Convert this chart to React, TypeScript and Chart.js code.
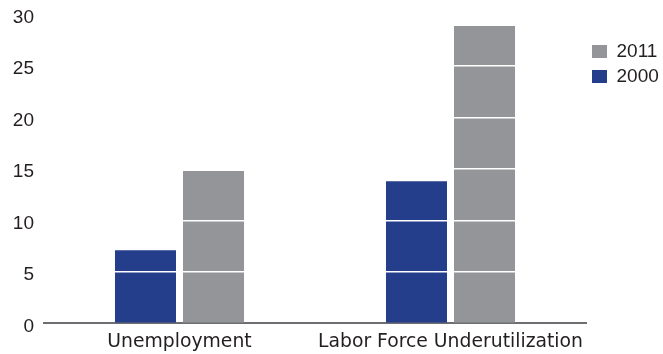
import React, { useEffect, useRef } from 'react';
import { Chart, registerables } from 'chart.js';

Chart.register(...registerables);

const categories = ['Unemployment', 'Labor Force Underutilization'];
const series2000 = [7.1, 13.8];
const series2011 = [14.8, 28.9];
const yTickStep = 5;
const yMin = 0;
const yMax = 30;

const BLUE = '#253e8c';
const GRAY = '#939598';
const TEXT = '#231f20';
const AXIS = '#6d6e71';

export default function App() {
  const ref = useRef<HTMLCanvasElement | null>(null);

  useEffect(() => {
    document.body.style.margin = '0';
    const ctx = ref.current!;
    const chart = new Chart(ctx, {
      type: 'bar',
      data: {
        labels: categories,
        datasets: [
          { label: '2000', data: series2000, backgroundColor: BLUE, borderWidth: 0 },
          { label: '2011', data: series2011, backgroundColor: GRAY, borderWidth: 0 },
        ],
      },
      options: {
        responsive: false,
        animation: false,
        devicePixelRatio: 1,
        layout: { padding: { top: 14.6, left: 0, right: 0, bottom: 0 } },
        datasets: { bar: { categoryPercentage: 0.502, barPercentage: 0.897 } },
        plugins: {
          tooltip: { enabled: false },
          legend: {
            position: 'right',
            align: 'start',
            reverse: true,
            maxWidth: 77,
            labels: {
              boxWidth: 15,
              boxHeight: 13,
              padding: 6,
              color: TEXT,
              font: { family: 'Liberation Sans, Arial, sans-serif', size: 19 },
            },
            title: { display: true, text: '', padding: { top: 4, bottom: 3 }, font: { size: 12 } },
          },
        },
        scales: {
          x: {
            grid: { display: false, drawTicks: false },
            border: { display: true, color: AXIS, width: 2 },
            ticks: {
              color: TEXT,
              padding: 8,
              maxRotation: 0,
              minRotation: 0,
              autoSkip: false,
              font: { family: 'DejaVu Sans, sans-serif', size: 18.8 },
            },
            afterFit: (s: any) => { s.height = 30.7; },
          },
          y: {
            min: yMin,
            max: yMax,
            ticks: {
              stepSize: yTickStep,
              color: TEXT,
              padding: 0,
              labelOffset: 3,
              font: { family: 'Liberation Sans, Arial, sans-serif', size: 19 },
            },
            grid: {
              z: 1,
              drawTicks: true,
              tickLength: 10,
              tickColor: 'rgba(0,0,0,0)',
              lineWidth: 1.5,
              color: (c: any) => (c.tick && (c.tick.value === 0) ? 'rgba(0,0,0,0)' : '#ffffff'),
            },
            border: { display: false },
            afterFit: (s: any) => { s.width = 44; },
          },
        },
      },
    });
    return () => chart.destroy();
  }, []);

  return (
    <div style={{ position: 'absolute', left: 0, top: 0, width: 663, height: 354 }}>
      <canvas ref={ref} width={663} height={354} style={{ width: 663, height: 354 }} />
    </div>
  );
}
